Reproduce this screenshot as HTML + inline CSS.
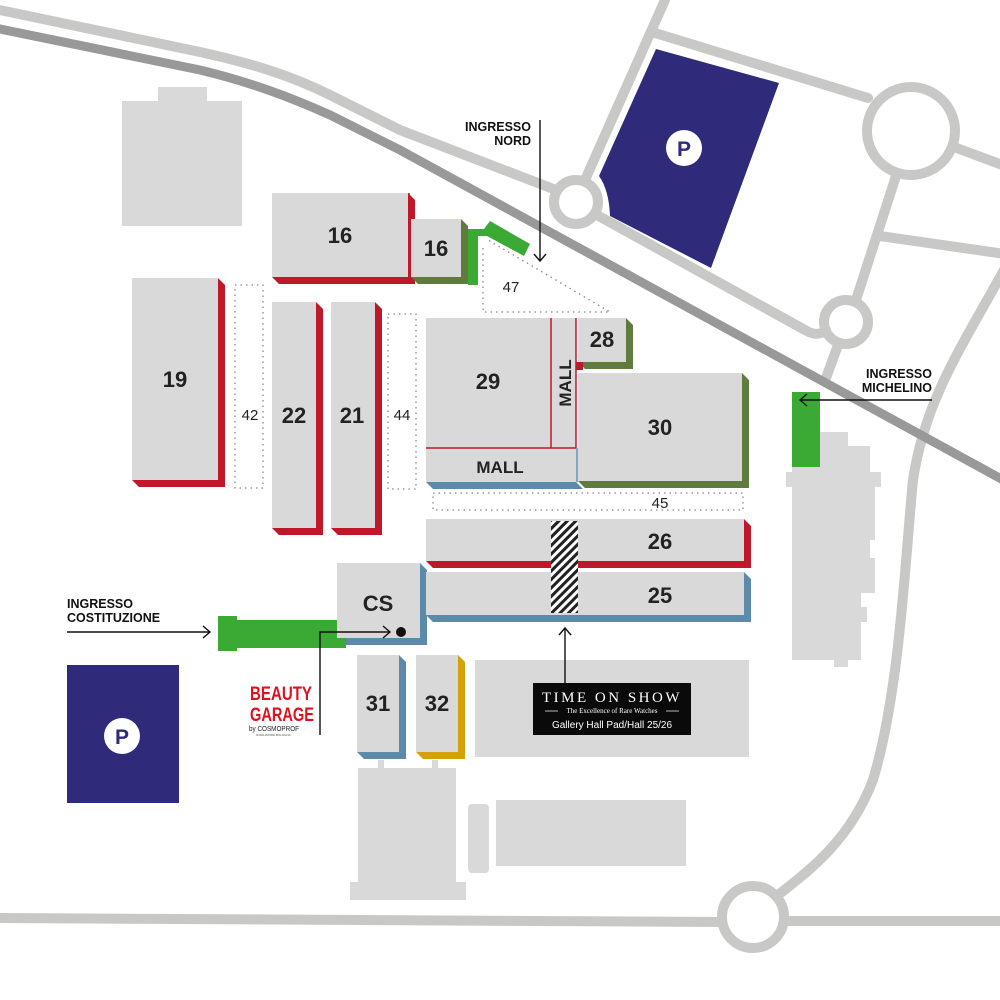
<!DOCTYPE html>
<html><head><meta charset="utf-8"><style>
html,body{margin:0;padding:0;background:#fff;}
svg{display:block;}
.n{font-family:"Liberation Sans",sans-serif;font-weight:bold;fill:#222;text-anchor:middle;}
.s{font-family:"Liberation Sans",sans-serif;fill:#222;text-anchor:middle;font-size:15px;}
.e{font-family:"Liberation Sans",sans-serif;font-weight:bold;fill:#111;font-size:12.5px;}
</style></head><body>
<svg width="1000" height="1000" viewBox="0 0 1000 1000" xmlns="http://www.w3.org/2000/svg">
<defs>
<pattern id="hatch" width="6" height="6" patternUnits="userSpaceOnUse" patternTransform="rotate(45)">
<rect width="6" height="6" fill="#fff"/><rect width="3" height="6" fill="#222"/></pattern>
</defs>
<rect width="1000" height="1000" fill="#fff"/>
<!-- roads -->
<g fill="none" stroke="#c8c8c6" stroke-width="10" stroke-linecap="round">
<path d="M-5,9 L200,52 C250,63 290,75 330,95 L400,130 L556,190"/>
<path d="M595,214 L805,330 C815,336 822,334 826,330"/>
<circle cx="576" cy="202" r="22"/>
<path d="M585,180 L665,0"/>
<path d="M655,33 L868,98"/>
<circle cx="911" cy="131" r="44"/>
<path d="M954,147 L1005,166"/>
<path d="M896,176 L856,300"/>
<path d="M880,236 L1005,254"/>
<circle cx="846" cy="322" r="22"/>
<path d="M838,345 L826,378"/>
<path d="M1005,268 C960,350 925,400 913,480 C905,560 900,690 873,780 C850,840 810,870 778,895"/>
<circle cx="753" cy="917" r="31"/>
<path d="M-5,918 L722,922"/>
<path d="M784,921 L1005,921"/>
</g>
<path d="M-5,28 L200,70 C250,82 290,97 330,115 L400,150 L1005,481" fill="none" stroke="#9a999a" stroke-width="9"/>
<!-- parkings -->
<path d="M656,49 L779,83 L711,268 L610,216 Q609,190 599,176 Z" fill="#2f2a7a"/>
<circle cx="684" cy="148" r="18" fill="#fff"/>
<text x="684" y="156" class="n" font-size="21" style="fill:#2f2a7a">P</text>
<rect x="67" y="665" width="112" height="138" fill="#2f2a7a"/>
<circle cx="122" cy="736" r="18" fill="#fff"/>
<text x="122" y="744" class="n" font-size="21" style="fill:#2f2a7a">P</text>
<!-- plain gray buildings -->
<g fill="#d9d9d9">
<rect x="122" y="101" width="120" height="125"/><rect x="158" y="87" width="49" height="15"/>
<rect x="475" y="660" width="274" height="97"/>
<rect x="358" y="768" width="98" height="115"/><rect x="350" y="882" width="116" height="18"/>
<rect x="378" y="760" width="6" height="9"/><rect x="432" y="760" width="6" height="9"/>
<rect x="468" y="804" width="21" height="69" rx="4"/><rect x="496" y="800" width="190" height="66"/>
<polygon points="820,432 848,432 848,446 870,446 870,472 881,472 881,487 875,487 875,540 870,540 870,558 875,558 875,593 861,593 861,607 867,607 867,622 861,622 861,660 848,660 848,667 834,667 834,660 792,660 792,487 786,487 786,472 792,472 792,467 820,467"/>
</g>
<!-- dotted areas -->
<g fill="none" stroke="#888" stroke-width="1.3" stroke-dasharray="1.5,4">
<rect x="235" y="285" width="28" height="203"/>
<rect x="388" y="314" width="28" height="175"/>
<rect x="433" y="493" width="310" height="17"/>
<polyline points="483,248 483,312 610,312 488,240"/>
</g>
<text x="250" y="420" class="s">42</text>
<text x="402" y="420" class="s">44</text>
<text x="511" y="292" class="s">47</text>
<text x="660" y="508" class="s">45</text>
<!-- shadows -->
<g>
<polygon points="408,193 415,200 415,284 279,284 272,277 408,277" fill="#c0182b"/>
<polygon points="461,219 468,226 468,284 418,284 411,277 461,277" fill="#5f7b3d"/>
<polygon points="218,278 225,285 225,487 139,487 132,480 218,480" fill="#c0182b"/>
<polygon points="316,302 323,309 323,535 279,535 272,528 316,528" fill="#c0182b"/>
<polygon points="375,302 382,309 382,535 338,535 331,528 375,528" fill="#c0182b"/>
<polygon points="426,482 433,489 583,489 576,482" fill="#5b8aaa"/>
<polygon points="626,318 633,325 633,369 585,369 578,362 626,362" fill="#5f7b3d"/>
<polygon points="576,362 583,362 583,370 576,370" fill="#c0182b"/>
<polygon points="742,373 749,380 749,488 585,488 578,481 742,481" fill="#5f7b3d"/>
<polygon points="744,519 751,526 751,568 433,568 426,561 744,561" fill="#c0182b"/>
<polygon points="744,572 751,579 751,622 433,622 426,615 744,615" fill="#5b8aaa"/>
<polygon points="420,563 427,570 427,645 344,645 337,638 420,638" fill="#5b8aaa"/>
<polygon points="399,655 406,662 406,759 364,759 357,752 399,752" fill="#5b8aaa"/>
<polygon points="458,655 465,662 465,759 423,759 416,752 458,752" fill="#d4a00b"/>
</g>
<!-- green entrances -->
<g fill="#3aaa35">
<polygon points="468,229 484,229 490,221 530,244 524,256 487,236 478,236 478,285 468,285"/>
<rect x="218" y="616" width="19" height="35"/><rect x="236" y="620" width="110" height="28"/>
<rect x="792" y="392" width="28" height="75"/>
</g>
<!-- halls -->
<g fill="#d9d9d9">
<rect x="272" y="193" width="136" height="84"/>
<rect x="411" y="219" width="50" height="58"/>
<rect x="132" y="278" width="86" height="202"/>
<rect x="272" y="302" width="44" height="226"/>
<rect x="331" y="302" width="44" height="226"/>
<rect x="426" y="318" width="150" height="164"/>
<rect x="578" y="318" width="48" height="44"/>
<rect x="578" y="373" width="164" height="108"/>
<rect x="426" y="519" width="318" height="42"/>
<rect x="426" y="572" width="318" height="43"/>
<rect x="337" y="563" width="83" height="75"/>
<rect x="357" y="655" width="42" height="97"/>
<rect x="416" y="655" width="42" height="97"/>
</g>
<line x1="409" y1="193" x2="409" y2="277" stroke="#c0182b" stroke-width="1.5"/>
<g stroke="#c0182b" stroke-width="1.5" fill="none">
<polyline points="426,448 576,448"/>
<polyline points="551,318 551,448"/>
<polyline points="576,318 576,448"/>
</g>
<line x1="577" y1="448" x2="577" y2="482" stroke="#5b8aaa" stroke-width="1.5"/>
<rect x="551" y="521" width="27" height="92" fill="url(#hatch)"/>
<!-- labels -->
<g class="n" font-size="22">
<text x="340" y="243">16</text>
<text x="436" y="256">16</text>
<text x="175" y="387">19</text>
<text x="294" y="423">22</text>
<text x="352" y="423">21</text>
<text x="488" y="389">29</text>
<text x="602" y="347">28</text>
<text x="660" y="435">30</text>
<text x="660" y="549">26</text>
<text x="660" y="603">25</text>
<text x="378" y="611">CS</text>
<text x="378" y="711">31</text>
<text x="437" y="711">32</text>
<text x="500" y="473" font-size="17">MALL</text>
<text x="571" y="383" font-size="17" transform="rotate(-90 571 383)">MALL</text>
</g>
<!-- entrance labels & arrows -->
<g fill="none" stroke="#111" stroke-width="1.4">
<line x1="540" y1="120" x2="540" y2="261"/><polyline points="534,254 540,261 546,254"/>
<line x1="932" y1="400" x2="800" y2="400"/><polyline points="807,394 800,400 807,406"/>
<line x1="67" y1="632" x2="210" y2="632"/><polyline points="203,626 210,632 203,638"/>
<polyline points="320,735 320,632 390,632"/><polyline points="383,626 390,632 383,638"/>
<line x1="565" y1="683" x2="565" y2="628"/><polyline points="559,635 565,628 571,635"/>
</g>
<circle cx="401" cy="632" r="5" fill="#111"/>
<text class="e" text-anchor="end"><tspan x="531" y="131">INGRESSO</tspan><tspan x="531" y="145">NORD</tspan></text>
<text class="e" text-anchor="end"><tspan x="932" y="378">INGRESSO</tspan><tspan x="932" y="392">MICHELINO</tspan></text>
<text class="e"><tspan x="67" y="608">INGRESSO</tspan><tspan x="67" y="622">COSTITUZIONE</tspan></text>
<!-- beauty garage -->
<g font-family="Liberation Sans, sans-serif" font-weight="bold" fill="#e0101e" font-size="19">
<text x="250" y="700" textLength="62" lengthAdjust="spacingAndGlyphs">BEAUTY</text>
<text x="250" y="721" textLength="64" lengthAdjust="spacingAndGlyphs">GARAGE</text>
</g>
<text x="249" y="731" font-family="Liberation Sans, sans-serif" font-size="7" fill="#222" textLength="50" lengthAdjust="spacingAndGlyphs">by COSMOPROF</text>
<text x="256" y="736" font-family="Liberation Sans, sans-serif" font-size="3" fill="#555">WORLDWIDE BOLOGNA</text>
<!-- time on show -->
<rect x="533" y="683" width="158" height="52" fill="#0a0a0a"/>
<text x="612" y="702" font-family="Liberation Serif, serif" font-size="15" fill="#fff" text-anchor="middle" letter-spacing="2.5">TIME ON SHOW</text>
<text x="612" y="713" font-family="Liberation Serif, serif" font-size="7" fill="#fff" text-anchor="middle">The Excellence of Rare Watches</text>
<line x1="545" y1="711" x2="558" y2="711" stroke="#fff" stroke-width="0.7"/><line x1="666" y1="711" x2="679" y2="711" stroke="#fff" stroke-width="0.7"/>
<text x="612" y="728" font-family="Liberation Sans, sans-serif" font-size="10" fill="#fff" text-anchor="middle">Gallery Hall Pad/Hall 25/26</text>
</svg>
</body></html>
